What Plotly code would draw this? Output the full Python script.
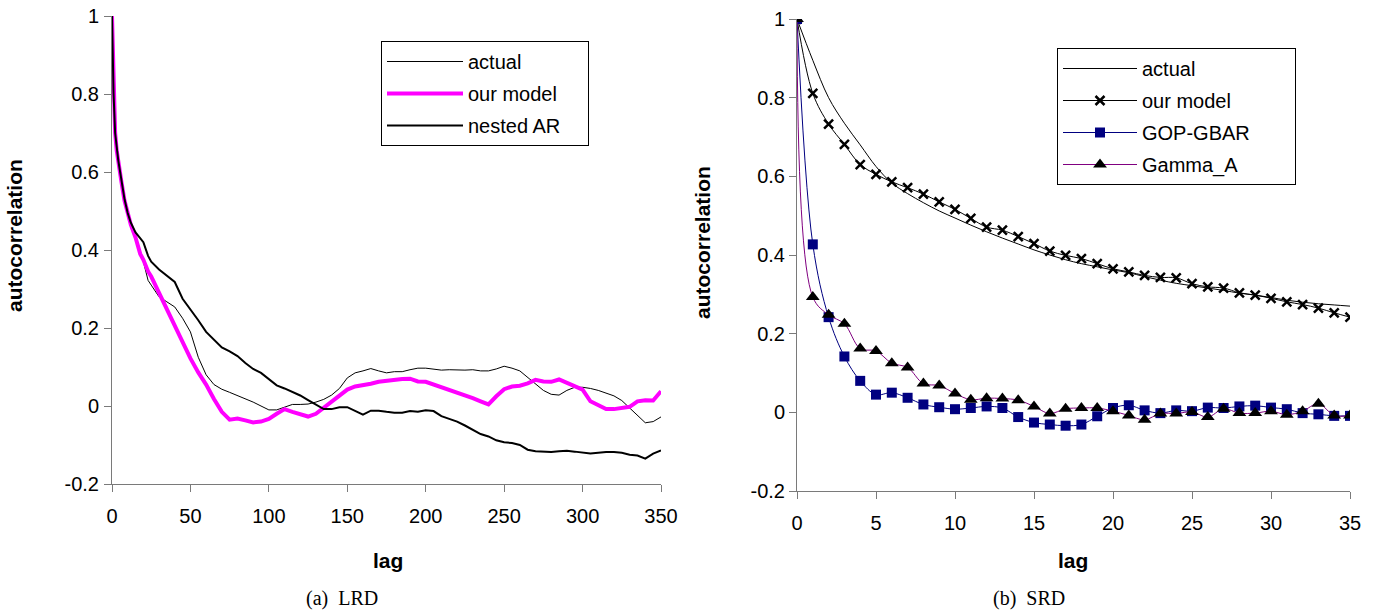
import plotly.graph_objects as go

# ---------------- (a) LRD data ----------------
lrd_lag = [0, 1, 2, 3, 4, 5, 6, 8, 10, 12, 15, 18, 20, 23, 25, 30, 35, 40, 45, 50,
           55, 60, 65, 70, 75, 80, 85, 90, 95, 100, 105, 110, 115, 120, 125, 130,
           135, 140, 145, 150, 155, 160, 165, 170, 175, 180, 185, 190, 195, 200,
           205, 210, 215, 220, 225, 230, 235, 240, 245, 250, 255, 260, 265, 270,
           275, 280, 285, 290, 295, 300, 305, 310, 315, 320, 325, 330, 335, 340,
           345, 350]

lrd_actual = [1.0, 0.80, 0.70, 0.66, 0.63, 0.603, 0.578, 0.528, 0.492, 0.466, 0.44, 0.39,
              0.37, 0.322, 0.31, 0.28, 0.267, 0.254, 0.225, 0.19,
              0.125, 0.08, 0.055, 0.043, 0.035, 0.027, 0.02, 0.01, 0.0, -0.01,
              -0.01, -0.003, 0.004, 0.004, 0.005, 0.01, 0.017, 0.028, 0.045, 0.072,
              0.085, 0.09, 0.096, 0.09, 0.085, 0.088, 0.088, 0.093, 0.097, 0.097,
              0.095, 0.092, 0.093, 0.092, 0.092, 0.093, 0.09, 0.09, 0.095, 0.102,
              0.097, 0.09, 0.073, 0.058, 0.04, 0.03, 0.028, 0.04, 0.048, 0.048,
              0.045, 0.04, 0.033, 0.026, 0.014, -0.005, -0.025, -0.043, -0.04, -0.028]

lrd_model = [1.0, 0.80, 0.70, 0.655, 0.625, 0.598, 0.575, 0.526, 0.49, 0.465, 0.432, 0.39,
             0.375, 0.345, 0.332, 0.29, 0.25, 0.205, 0.163, 0.122,
             0.086, 0.055, 0.018, -0.015, -0.035, -0.032, -0.037, -0.042, -0.04, -0.033,
             -0.02, -0.008, -0.015, -0.02, -0.027, -0.02, -0.005, 0.012, 0.025, 0.042,
             0.05, 0.053, 0.057, 0.062, 0.065, 0.066, 0.069, 0.07, 0.063, 0.062,
             0.055, 0.048, 0.042, 0.036, 0.028, 0.02, 0.012, 0.004, 0.025, 0.043,
             0.05, 0.052, 0.058, 0.067, 0.063, 0.062, 0.068, 0.06, 0.052, 0.042,
             0.012, 0.003, -0.008, -0.008, -0.005, -0.002, 0.012, 0.015, 0.014, 0.038]

lrd_nested = [1.0, 0.80, 0.70, 0.66, 0.63, 0.605, 0.58, 0.53, 0.495, 0.47, 0.445, 0.43,
              0.42, 0.385, 0.37, 0.35, 0.335, 0.318, 0.275, 0.248,
              0.22, 0.19, 0.17, 0.15, 0.14, 0.128, 0.11, 0.095, 0.085, 0.068,
              0.053, 0.045, 0.037, 0.027, 0.015, 0.003, -0.008, -0.008, -0.003, -0.003,
              -0.012, -0.022, -0.012, -0.012, -0.015, -0.017, -0.017, -0.013, -0.015, -0.011,
              -0.013, -0.026, -0.033, -0.04, -0.05, -0.062, -0.072, -0.078, -0.088, -0.093,
              -0.095, -0.1, -0.112, -0.116, -0.117, -0.118, -0.116, -0.115, -0.117, -0.12,
              -0.122, -0.12, -0.118, -0.118, -0.12, -0.125, -0.127, -0.135, -0.122, -0.114]

# ---------------- (b) SRD data ----------------
srd_lag = list(range(0, 36))

srd_actual = [1.0, 0.895, 0.80, 0.735, 0.68, 0.625, 0.583, 0.556, 0.533, 0.512, 0.494,
              0.476, 0.459, 0.443, 0.428, 0.413, 0.40, 0.388, 0.378, 0.370, 0.362,
              0.355, 0.345, 0.336, 0.328, 0.322, 0.316, 0.31, 0.303, 0.298, 0.292,
              0.285, 0.28, 0.276, 0.273, 0.27]

srd_model = [1.0, 0.811, 0.733, 0.681, 0.630, 0.605, 0.586, 0.571, 0.555, 0.535, 0.516,
             0.493, 0.471, 0.463, 0.447, 0.429, 0.410, 0.399, 0.391, 0.378, 0.365,
             0.357, 0.348, 0.343, 0.342, 0.327, 0.319, 0.316, 0.304, 0.298, 0.290,
             0.281, 0.274, 0.265, 0.253, 0.242]

srd_gop = [1.0, 0.427, 0.242, 0.142, 0.080, 0.045, 0.050, 0.037, 0.020, 0.013, 0.008,
           0.011, 0.015, 0.011, -0.012, -0.026, -0.031, -0.034, -0.031, -0.010, 0.011,
           0.018, 0.005, -0.002, 0.005, 0.003, 0.012, 0.011, 0.015, 0.017, 0.012,
           0.008, -0.002, -0.005, -0.009, -0.009]

srd_gamma = [1.0, 0.293, 0.248, 0.225, 0.162, 0.156, 0.125, 0.114, 0.073, 0.068, 0.048,
             0.032, 0.036, 0.035, 0.031, 0.015, -0.003, 0.009, 0.011, 0.011, 0.003,
             -0.008, -0.019, -0.003, -0.003, 0.001, -0.012, 0.009, -0.002, -0.002, 0.003,
             -0.006, 0.003, 0.022, -0.008, -0.008]

y_ticks = [-0.2, 0, 0.2, 0.4, 0.6, 0.8, 1]
y_ticktext = ["-0.2", "0", "0.2", "0.4", "0.6", "0.8", "1"]
x_ticks_a = [0, 50, 100, 150, 200, 250, 300, 350]
x_ticks_b = [0, 5, 10, 15, 20, 25, 30, 35]

W, H = 1385, 614
FONT = "Arial, Liberation Sans, sans-serif"
AXC = "#7a7a7a"
PAD = "\u00a0" * 4
PAD2 = "\u2003\u2003"

fig = go.Figure()

# (a) traces
fig.add_trace(go.Scatter(x=lrd_lag, y=lrd_actual, mode="lines", name="actual" + PAD,
                         line=dict(color="black", width=1), xaxis="x", yaxis="y",
                         legend="legend", legendgroup="a1"))
fig.add_trace(go.Scatter(x=lrd_lag, y=lrd_model, mode="lines", name="our model" + PAD,
                         line=dict(color="#FF00FF", width=4), xaxis="x", yaxis="y",
                         legend="legend", legendgroup="a2"))
fig.add_trace(go.Scatter(x=lrd_lag, y=lrd_nested, mode="lines", name="nested AR" + PAD,
                         line=dict(color="black", width=2), xaxis="x", yaxis="y",
                         legend="legend", legendgroup="a3"))

# (b) traces
fig.add_trace(go.Scatter(x=srd_lag, y=srd_actual, mode="lines", name="actual" + PAD2,
                         line=dict(color="black", width=1, shape="spline"),
                         xaxis="x2", yaxis="y2", legend="legend2", legendgroup="b1"))
fig.add_trace(go.Scatter(x=srd_lag, y=srd_model, mode="lines+markers", name="our model" + PAD2,
                         line=dict(color="black", width=1, shape="spline"),
                         marker=dict(symbol="x-thin", size=9, color="black",
                                     line=dict(color="black", width=2.5)),
                         xaxis="x2", yaxis="y2", legend="legend2", legendgroup="b2"))
fig.add_trace(go.Scatter(x=srd_lag, y=srd_gop, mode="lines+markers", name="GOP-GBAR" + PAD2,
                         line=dict(color="#000080", width=1, shape="spline"),
                         marker=dict(symbol="square", size=10, color="#000080"),
                         xaxis="x2", yaxis="y2", legend="legend2", legendgroup="b3"))
fig.add_trace(go.Scatter(x=srd_lag, y=srd_gamma, mode="lines+markers", name="Gamma_A" + PAD2,
                         line=dict(color="#800080", width=1, shape="spline"),
                         marker=dict(symbol="triangle-up", size=12, color="black"),
                         xaxis="x2", yaxis="y2", legend="legend2", legendgroup="b4"))

axis_common = dict(showgrid=False, zeroline=False, showline=True, linecolor=AXC,
                   linewidth=1, ticks="outside", ticklen=7, tickcolor=AXC,
                   automargin=False,
                   tickfont=dict(family=FONT, size=20, color="black"))

fig.update_layout(
    width=W, height=H, autosize=False,
    margin=dict(l=0, r=0, t=0, b=0, autoexpand=False),
    paper_bgcolor="white", plot_bgcolor="white",
    showlegend=True,
    xaxis=dict(domain=[112 / W, 661 / W], range=[0, 350], anchor="y",
               tickvals=x_ticks_a, ticklabelstandoff=7, **axis_common),
    yaxis=dict(domain=[1 - 484 / H, 1 - 16 / H], range=[-0.2, 1], anchor="x",
               tickvals=y_ticks, ticktext=y_ticktext, ticklabelstandoff=1, **axis_common),
    xaxis2=dict(domain=[797 / W, 1350 / W], range=[0, 35], anchor="y2",
                tickvals=x_ticks_b, ticklabelstandoff=7, **axis_common),
    yaxis2=dict(domain=[1 - 491 / H, 1 - 19 / H], range=[-0.2, 1], anchor="x2",
                tickvals=y_ticks, ticktext=y_ticktext, ticklabelstandoff=0, **axis_common),
    legend=dict(x=381 / W, y=1 - 41 / H, xanchor="left", yanchor="top",
                bordercolor="black", borderwidth=1, bgcolor="white",
                font=dict(family=FONT, size=20, color="black"),
                tracegroupgap=3, itemwidth=76),
    legend2=dict(x=1057 / W, y=1 - 48 / H, xanchor="left", yanchor="top",
                 bordercolor="black", borderwidth=1, bgcolor="white",
                 font=dict(family=FONT, size=20, color="black"),
                 tracegroupgap=3, itemwidth=74),
)

ann = []
for (px, py, txt) in [(15, 236, "autocorrelation"), (703, 243, "autocorrelation")]:
    ann.append(dict(x=px / W, y=1 - py / H, xref="paper", yref="paper", text="<b>%s</b>" % txt,
                    textangle=-90, showarrow=False, xanchor="center", yanchor="middle",
                    font=dict(family=FONT, size=21, color="black")))
for (px, py) in [(388, 560), (1073, 560)]:
    ann.append(dict(x=px / W, y=1 - py / H, xref="paper", yref="paper", text="<b>lag</b>",
                    showarrow=False, xanchor="center", yanchor="middle",
                    font=dict(family=FONT, size=21, color="black")))
for (px, py, txt) in [(342, 598, "(a)  LRD"), (1029, 598, "(b)  SRD")]:
    ann.append(dict(x=px / W, y=1 - py / H, xref="paper", yref="paper", text=txt,
                    showarrow=False, xanchor="center", yanchor="middle",
                    font=dict(family="Times New Roman, Liberation Serif, serif", size=20, color="black")))
fig.update_layout(annotations=ann)

fig.write_html("out.html")
